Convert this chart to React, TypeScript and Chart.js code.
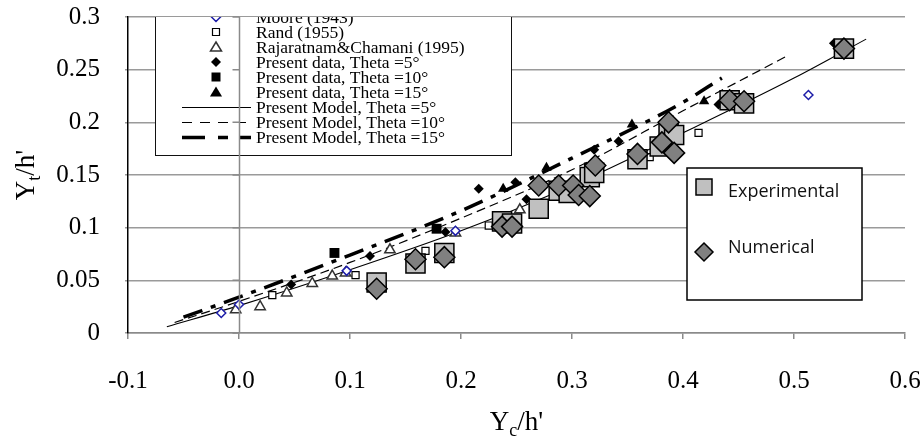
import React, { useEffect, useRef } from "react";
import { Chart, registerables } from "chart.js";

Chart.register(...registerables);

// ---------- data ----------
const xTickValues = [-0.1, 0.0, 0.1, 0.2, 0.3, 0.4, 0.5, 0.6];
const yTickValues = [0, 0.05, 0.1, 0.15, 0.2, 0.25, 0.3];

const mooreX = [-0.016, 0.0, 0.097, 0.195, 0.513];
const mooreY = [0.019, 0.027, 0.059, 0.097, 0.226];

const randX = [0.03, 0.105, 0.168, 0.225, 0.37, 0.414];
const randY = [0.036, 0.055, 0.078, 0.102, 0.167, 0.19];

const rajX = [-0.003, 0.019, 0.043, 0.066, 0.084, 0.096, 0.136, 0.195, 0.253];
const rajY = [0.022, 0.025, 0.038, 0.047, 0.054, 0.057, 0.079, 0.095, 0.117];

const p5X = [0.047, 0.118, 0.186, 0.216, 0.249, 0.259, 0.32, 0.342, 0.432, 0.536];
const p5Y = [0.046, 0.073, 0.096, 0.137, 0.143, 0.127, 0.174, 0.182, 0.217, 0.275];

const p10X = [0.086, 0.178];
const p10Y = [0.076, 0.099];

const p15X = [0.238, 0.277, 0.354, 0.419];
const p15Y = [0.137, 0.157, 0.198, 0.22];

const expX = [0.124, 0.159, 0.185, 0.237, 0.246, 0.27, 0.288, 0.297, 0.316, 0.32, 0.359, 0.379, 0.387, 0.392, 0.442, 0.455, 0.545];
const expY = [0.048, 0.066, 0.076, 0.106, 0.104, 0.118, 0.135, 0.133, 0.148, 0.152, 0.165, 0.177, 0.19, 0.188, 0.221, 0.218, 0.27];

const numX = [0.124, 0.159, 0.185, 0.237, 0.246, 0.27, 0.288, 0.301, 0.306, 0.316, 0.321, 0.359, 0.381, 0.387, 0.392, 0.442, 0.455, 0.545];
const numY = [0.042, 0.07, 0.072, 0.101, 0.101, 0.14, 0.14, 0.14, 0.131, 0.13, 0.159, 0.17, 0.181, 0.2, 0.171, 0.221, 0.22, 0.27];

const m5X = [-0.065, 0, 0.1, 0.2, 0.3, 0.4, 0.5, 0.565];
const m5Y = [0.006, 0.026, 0.06, 0.097, 0.14, 0.19, 0.242, 0.279];
const m10X = [-0.058, 0, 0.1, 0.2, 0.3, 0.4, 0.492];
const m10Y = [0.01, 0.03, 0.067, 0.109, 0.155, 0.211, 0.262];
const m15X = [-0.05, 0, 0.1, 0.2, 0.3, 0.4, 0.435];
const m15Y = [0.015, 0.034, 0.074, 0.116, 0.166, 0.219, 0.242];

const legendLabels = [
  "Moore (1943)",
  "Rand (1955)",
  "Rajaratnam&Chamani (1995)",
  "Present data, Theta =5°",
  "Present data, Theta =10°",
  "Present data, Theta =15°",
  "Present Model, Theta =5°",
  "Present Model, Theta =10°",
  "Present Model, Theta =15°",
];
const legend2Labels = ["Experimental", "Numerical"];

const zip = (xs: number[], ys: number[]) => xs.map((x, i) => ({ x, y: ys[i] }));

const SERIF = "'Liberation Serif', 'Times New Roman', serif";
const SANS = "'Liberation Sans Narrow', 'Open Sans', sans-serif";
const MOORE_BLUE = "#1c1ca8";
const DASH10 = [9, 5];
const DASH15 = [20, 9, 5, 9];

function drawMarker(ctx: CanvasRenderingContext2D, kind: string, x: number, y: number, r: number, fill: string, stroke: string, lw: number) {
  ctx.save();
  ctx.beginPath();
  if (kind === "diamond") {
    ctx.moveTo(x, y - r);
    ctx.lineTo(x + r, y);
    ctx.lineTo(x, y + r);
    ctx.lineTo(x - r, y);
    ctx.closePath();
  } else if (kind === "square") {
    ctx.rect(x - r, y - r, 2 * r, 2 * r);
  } else {
    ctx.moveTo(x, y - r);
    ctx.lineTo(x + r * 1.1, y + r * 0.8);
    ctx.lineTo(x - r * 1.1, y + r * 0.8);
    ctx.closePath();
  }
  ctx.fillStyle = fill;
  ctx.fill();
  if (lw > 0) {
    ctx.lineWidth = lw;
    ctx.strokeStyle = stroke;
    ctx.stroke();
  }
  ctx.restore();
}

const overlayPlugin = {
  id: "overlay",
  afterDatasetsDraw(chart: any) {
    const ctx: CanvasRenderingContext2D = chart.ctx;
    const area = chart.chartArea;
    const xs = chart.scales.x;
    const ys = chart.scales.y;

    // ---- main legend (top-left, clipped at plot top) ----
    ctx.save();
    ctx.beginPath();
    ctx.rect(0, area.top, chart.width, chart.height);
    ctx.clip();
    const bx0 = 155, bx1 = 511, by1 = 155;
    ctx.fillStyle = "#fff";
    ctx.fillRect(bx0, 0, bx1 - bx0, by1);
    ctx.strokeStyle = "#111";
    ctx.lineWidth = 1;
    ctx.strokeRect(bx0 + 0.5, -10, bx1 - bx0, by1 + 10 + 0.5);

    const rowY = (i: number) => 17 + i * 15;
    const mx = 216;
    drawMarker(ctx, "diamond", mx, rowY(0), 4.5, "#fff", MOORE_BLUE, 1.5);
    drawMarker(ctx, "square", mx, rowY(1), 3.5, "#fff", "#000", 1.2);
    drawMarker(ctx, "triangle", mx, rowY(2), 5, "#fff", "#333", 1.5);
    drawMarker(ctx, "diamond", mx, rowY(3), 5, "#000", "#000", 0);
    drawMarker(ctx, "square", mx, rowY(4), 4.5, "#000", "#000", 0);
    drawMarker(ctx, "triangle", mx, rowY(5), 5.5, "#000", "#000", 0);

    const lineSample = (i: number, dash: number[], w: number) => {
      ctx.save();
      ctx.beginPath();
      ctx.setLineDash(dash);
      ctx.lineWidth = w;
      ctx.strokeStyle = "#000";
      ctx.moveTo(182, rowY(i) + 0.5);
      ctx.lineTo(251, rowY(i) + 0.5);
      ctx.stroke();
      ctx.restore();
    };
    lineSample(6, [], 1);
    lineSample(7, [10, 8], 1);
    lineSample(8, [23, 13, 10, 12], 3.5);

    ctx.fillStyle = "#000";
    ctx.font = `17.5px ${SERIF}`;
    ctx.textBaseline = "middle";
    ctx.textAlign = "left";
    legendLabels.forEach((t, i) => ctx.fillText(t, 256, rowY(i) + 1));
    ctx.restore();

    // ---- vertical axis at x = 0 ----
    const x0 = Math.round(xs.getPixelForValue(0)) + 0.5;
    ctx.save();
    ctx.strokeStyle = "#8a8a8a";
    ctx.lineWidth = 1.5;
    ctx.beginPath();
    ctx.moveTo(x0, area.top);
    ctx.lineTo(x0, area.bottom);
    yTickValues.forEach((v) => {
      const py = ys.getPixelForValue(v);
      ctx.moveTo(x0 - 7, py);
      ctx.lineTo(x0, py);
    });
    ctx.stroke();
    ctx.restore();

    // ---- second legend ----
    ctx.save();
    const lx0 = 687, ly0 = 168, lx1 = 862, ly1 = 300;
    ctx.fillStyle = "#fff";
    ctx.fillRect(lx0, ly0, lx1 - lx0, ly1 - ly0);
    ctx.strokeStyle = "#000";
    ctx.lineWidth = 1.5;
    ctx.strokeRect(lx0, ly0, lx1 - lx0, ly1 - ly0);
    drawMarker(ctx, "square", 704, 187, 8, "#c0c0c0", "#000", 1.5);
    drawMarker(ctx, "diamond", 704, 252, 9, "#808080", "#000", 1.5);
    ctx.fillStyle = "#111";
    ctx.font = `18px ${SANS}`;
    ctx.textBaseline = "middle";
    ctx.textAlign = "left";
    ctx.fillText(legend2Labels[0], 728, 192);
    ctx.fillText(legend2Labels[1], 728, 248);
    ctx.restore();

    // ---- axis titles (with subscripts) ----
    const drawSubTitle = (main: string, sub: string, rest: string, cx: number, cy: number, rot: number) => {
      ctx.save();
      ctx.translate(cx, cy);
      ctx.rotate(rot);
      ctx.fillStyle = "#000";
      ctx.textBaseline = "alphabetic";
      ctx.textAlign = "left";
      const big = `27px ${SERIF}`;
      const small = `18px ${SERIF}`;
      ctx.font = big;
      const w1 = ctx.measureText(main).width;
      const w3 = ctx.measureText(rest).width;
      ctx.font = small;
      const w2 = ctx.measureText(sub).width;
      const total = w1 + w2 + w3;
      let x = -total / 2;
      const base = 9;
      ctx.font = big;
      ctx.fillText(main, x, base);
      x += w1;
      ctx.font = small;
      ctx.fillText(sub, x, base + 6);
      x += w2;
      ctx.font = big;
      ctx.fillText(rest, x, base);
      ctx.restore();
    };
    drawSubTitle("Y", "t", "/h'", 25, (area.top + area.bottom) / 2, -Math.PI / 2);
    drawSubTitle("Y", "c", "/h'", (area.left + area.right) / 2, 421, 0);
  },
};

export default function App() {
  const ref = useRef<HTMLCanvasElement | null>(null);

  useEffect(() => {
    if (!ref.current) return;
    const lineDs = (label: string, xs: number[], ys: number[], dash: number[], w: number) => ({
      type: "line" as const,
      label,
      data: zip(xs, ys),
      showLine: true,
      borderColor: "#000",
      borderWidth: w,
      borderDash: dash,
      pointRadius: 0,
      fill: false,
      cubicInterpolationMode: "monotone" as const,
      order: 10,
    });
    const ptDs = (label: string, xs: number[], ys: number[], style: string, r: number, fill: string, stroke: string, bw: number, order: number) => ({
      type: "scatter" as const,
      label,
      data: zip(xs, ys),
      pointStyle: style,
      pointRadius: r,
      backgroundColor: fill,
      borderColor: stroke,
      borderWidth: bw,
      order,
    });

    const noPad = (s: any) => {
      s.paddingLeft = 0;
      s.paddingRight = 0;
      s.paddingTop = 0;
      s.paddingBottom = 0;
    };

    const chart = new Chart(ref.current, {
      type: "scatter",
      data: {
        datasets: [
          lineDs(legendLabels[6], m5X, m5Y, [], 1.1),
          lineDs(legendLabels[7], m10X, m10Y, DASH10, 1.2),
          lineDs(legendLabels[8], m15X, m15Y, DASH15, 3.5),
          ptDs(legendLabels[0], mooreX, mooreY, "rectRot", 4.5, "#fff", MOORE_BLUE, 1.5, 5),
          ptDs(legendLabels[1], randX, randY, "rect", 5, "#fff", "#000", 1.2, 5),
          ptDs(legendLabels[2], rajX, rajY, "triangle", 6, "#fff", "#333", 1.5, 5),
          ptDs(legendLabels[3], p5X, p5Y, "rectRot", 5, "#000", "#000", 0, 4),
          ptDs(legendLabels[4], p10X, p10Y, "rect", 7, "#000", "#000", 0, 4),
          ptDs(legendLabels[5], p15X, p15Y, "triangle", 6, "#000", "#000", 0, 4),
          ptDs(legend2Labels[0], expX, expY, "rect", 13.5, "#c0c0c0", "#000", 1.5, 1),
          ptDs(legend2Labels[1], numX, numY, "rectRot", 10.5, "#808080", "#000", 1.5, 0),
        ] as any,
      },
      options: {
        animation: false,
        responsive: false,
        maintainAspectRatio: false,
        events: [],
        layout: { padding: { left: 0, right: 19, top: 17, bottom: 0 } },
        plugins: { legend: { display: false }, tooltip: { enabled: false } },
        scales: {
          x: {
            type: "linear",
            min: -0.1,
            max: 0.6,
            afterBuildTicks: (s: any) => {
              s.ticks = xTickValues.map((v) => ({ value: v }));
            },
            afterFit: (s: any) => {
              s.height = 108;
              noPad(s);
            },
            ticks: {
              callback: (v: any) => (Math.abs(Number(v)) < 1e-9 ? "0.0" : Number(v).toFixed(1)),
              font: { family: SERIF, size: 25 },
              color: "#000",
              padding: 27,
              maxRotation: 0,
              autoSkip: false,
            },
            grid: { drawOnChartArea: false, drawTicks: true, tickLength: 6, color: "#8a8a8a", lineWidth: 1.5 },
            border: { color: "#8a8a8a", width: 1.5 },
          },
          y: {
            type: "linear",
            min: 0,
            max: 0.3,
            afterBuildTicks: (s: any) => {
              s.ticks = yTickValues.map((v) => ({ value: v }));
            },
            afterFit: (s: any) => {
              s.width = 128;
              noPad(s);
            },
            ticks: {
              callback: (v: any) => String(Number(Number(v).toFixed(2))),
              font: { family: SERIF, size: 25 },
              color: "#000",
              padding: 25,
              autoSkip: false,
            },
            grid: { color: "#9a9a9a", lineWidth: 1.5, tickLength: 3 },
            border: { color: "#000", width: 1.5 },
          },
        },
      } as any,
      plugins: [overlayPlugin],
    });
    return () => chart.destroy();
  }, []);

  return (
    <div style={{ position: "absolute", left: 0, top: 0, width: 924, height: 441, background: "#fff" }}>
      <canvas ref={ref} width={924} height={441} style={{ width: 924, height: 441, display: "block" }} />
    </div>
  );
}
